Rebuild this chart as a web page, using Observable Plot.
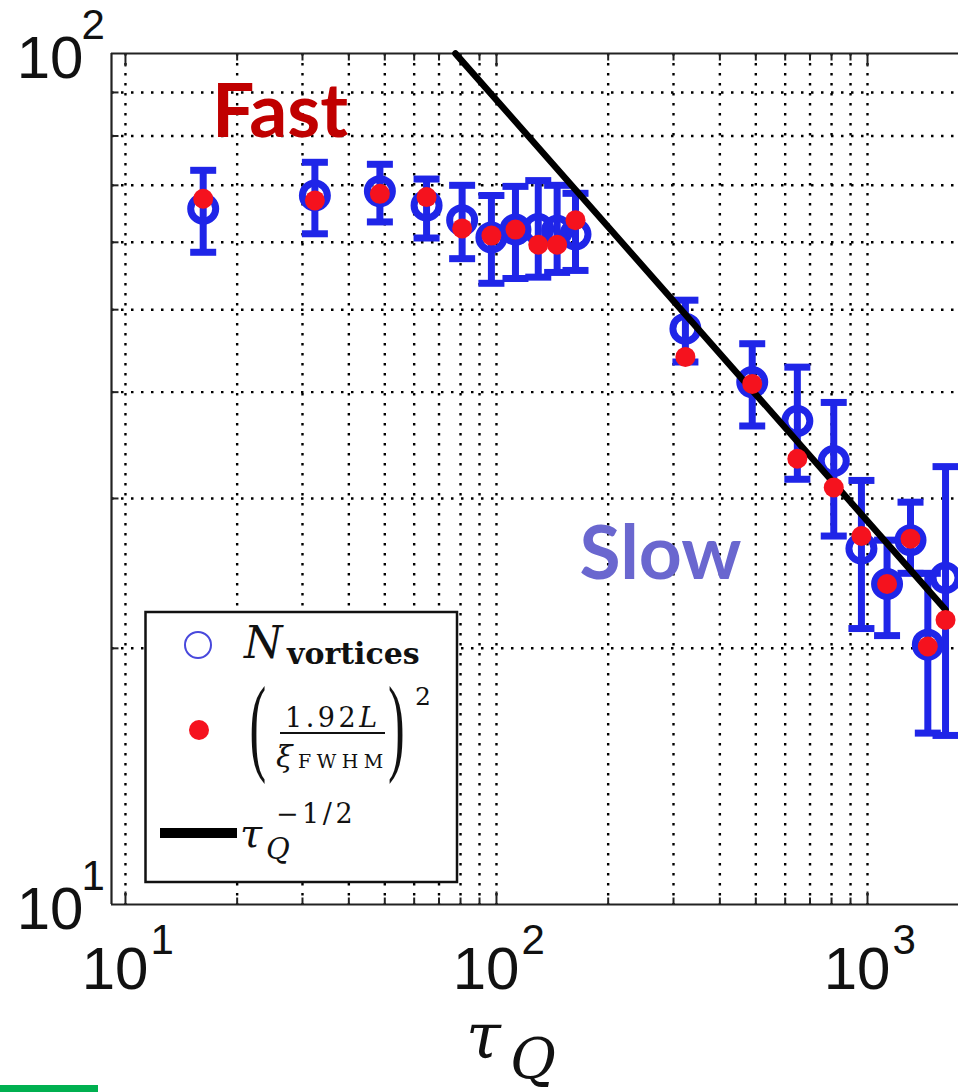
<!DOCTYPE html>
<html><head><meta charset="utf-8">
<script src="https://cdn.jsdelivr.net/npm/d3@7"></script>
<script src="https://cdn.jsdelivr.net/npm/@observablehq/plot@0.6"></script>
<style>
html,body{margin:0;padding:0;background:#fff;}
#chart{position:relative;width:958px;height:1092px;overflow:hidden;}
#chart svg{display:block;}
#green{position:absolute;left:0;top:1085px;width:98px;height:7px;background:#00b050;}
</style></head><body>
<div id="chart"><div id="green"></div></div>
<script>
// ---- data ----
const tauQ        = [16.2, 32.4, 48.5, 64.8, 80.8, 96.9, 112.5, 129.6, 145.7, 163.3, 323, 489, 647, 811, 963, 1129, 1306, 1454, 1623];
const nVortices   = [65.7, 68.1, 68.9, 66.3, 63.7, 60.8, 62.1, 62.2, 61.9, 61.3, 47.5, 41.1, 37.0, 33.2, 26.2, 23.8, 26.8, 20.2, 24.2];
const errHigh     = [72.9, 74.5, 74.1, 71.2, 70.0, 68.1, 69.8, 70.9, 70.0, 68.5, 51.3, 45.6, 42.8, 38.9, 31.5, 26.8, 29.7, 24.5, 32.7];
const errLow      = [58.4, 61.4, 63.4, 60.7, 57.4, 53.7, 54.4, 54.6, 55.3, 55.6, 43.4, 36.5, 31.6, 27.1, 21.1, 20.7, 24.5, 15.9, 15.8];
const fwhmEstimate= [67.5, 67.2, 68.4, 67.8, 62.3, 61.1, 62.1, 59.6, 59.6, 63.7, 44.0, 40.9, 33.4, 30.9, 27.1, 23.8, 26.9, 20.1, 21.6];
const fitX = [77.5, 1623];
const fitY = [100, 22.2];

const xMajor = [10, 100, 1000];
const xExp   = ["1", "2", "3"];
const xMinor = [20, 30, 40, 50, 60, 70, 80, 90, 200, 300, 400, 500, 600, 700, 800, 900];
const yMajor = [10, 100];
const yExp   = ["1", "2"];
const yMinor = [20, 30, 40, 50, 60, 70, 80, 90];

const regimeLabels = ["Fast", "Slow"];
const regimeX = [17.1, 167.5];
const regimeY = [79.7, 24.1];
const regimeColors = ["#c00000", "#6a67cf"];

const xDomain = [9.17, 1759];
const yDomain = [10, 100];

// ---- styling ----
const blue = "#1f25e8", red = "#f5121e";
const capSymbol = {draw(ctx, size){const r = Math.sqrt(size/Math.PI); ctx.moveTo(-r,0); ctx.lineTo(r,0);}};
const tickUp    = {draw(ctx, size){const r = Math.sqrt(size/Math.PI); ctx.moveTo(0,0); ctx.lineTo(0,-r);}};
const tickDown  = {draw(ctx, size){const r = Math.sqrt(size/Math.PI); ctx.moveTo(0,0); ctx.lineTo(0,r);}};
const tickRight = {draw(ctx, size){const r = Math.sqrt(size/Math.PI); ctx.moveTo(0,0); ctx.lineTo(r,0);}};

const pts = tauQ.map((t, i) => ({t, n: nVortices[i], hi: errHigh[i], lo: errLow[i], f: fwhmEstimate[i]}));
const fit = fitX.map((x, i) => ({x, y: fitY[i]}));
const regimes = regimeLabels.map((s, i) => ({s, x: regimeX[i], y: regimeY[i], c: regimeColors[i]}));
const xGrid = xMajor.concat(xMinor);

const gridStyle = {stroke: "#000", strokeWidth: 2.4, strokeDasharray: "2.5,7.5"};
const frameStyle = {stroke: "#222", strokeWidth: 2.2};
const sans = "'Liberation Sans', Arial, sans-serif";

const svg = Plot.plot({
  width: 958, height: 1092,
  marginLeft: 111, marginRight: 0, marginTop: 53, marginBottom: 188,
  x: {type: "log", domain: xDomain, axis: null},
  y: {type: "log", domain: yDomain, axis: null},
  style: {background: "white"},
  marks: [
    Plot.ruleX(xGrid, {x: d => d, ...gridStyle}),
    Plot.ruleY(yMinor, {y: d => d, ...gridStyle}),
    // frame (right edge lies beyond the picture)
    Plot.ruleY([yDomain[1]], {y: d => d, ...frameStyle}),
    Plot.ruleY([yDomain[0]], {y: d => d, ...frameStyle}),
    Plot.ruleX([xDomain[0]], {x: d => d, ...frameStyle}),
    // inward ticks
    Plot.dot(xMajor, {x: d => d, y: () => yDomain[0], symbol: tickUp, r: 13, stroke: "#222", strokeWidth: 2}),
    Plot.dot(xMinor, {x: d => d, y: () => yDomain[0], symbol: tickUp, r: 7, stroke: "#222", strokeWidth: 2}),
    Plot.dot(xMajor, {x: d => d, y: () => yDomain[1], symbol: tickDown, r: 13, stroke: "#222", strokeWidth: 2}),
    Plot.dot(xMinor, {x: d => d, y: () => yDomain[1], symbol: tickDown, r: 7, stroke: "#222", strokeWidth: 2}),
    Plot.dot(yMinor, {x: () => xDomain[0], y: d => d, symbol: tickRight, r: 7, stroke: "#222", strokeWidth: 2}),
    // tick labels
    Plot.text(xMajor, {x: d => d, y: () => yDomain[0], text: () => "10", dx: 23, dy: 84, textAnchor: "end", lineAnchor: "bottom", fontSize: 60, fontFamily: sans, fill: "#111"}),
    Plot.text(xMajor, {x: d => d, y: () => yDomain[0], text: (d, i) => xExp[i], dx: 25, dy: 49, textAnchor: "start", lineAnchor: "bottom", fontSize: 42, fontFamily: sans, fill: "#111"}),
    Plot.text(yMajor, {x: () => xDomain[0], y: d => d, text: () => "10", dx: -28, dy: 24, textAnchor: "end", lineAnchor: "bottom", fontSize: 60, fontFamily: sans, fill: "#111"}),
    Plot.text(yMajor, {x: () => xDomain[0], y: d => d, text: (d, i) => yExp[i], dx: -30, dy: -15, textAnchor: "start", lineAnchor: "bottom", fontSize: 42, fontFamily: sans, fill: "#111"}),
    // error bars and N_vortices
    Plot.ruleX(pts, {x: "t", y1: "lo", y2: "hi", stroke: blue, strokeWidth: 7}),
    Plot.dot(pts, {x: "t", y: "hi", symbol: capSymbol, r: 13, stroke: blue, strokeWidth: 7, fill: "none"}),
    Plot.dot(pts, {x: "t", y: "lo", symbol: capSymbol, r: 13, stroke: blue, strokeWidth: 7, fill: "none"}),
    Plot.dot(pts, {x: "t", y: "n", r: 12.5, stroke: blue, strokeWidth: 7, fill: "none"}),
    // fit line
    Plot.line(fit, {x: "x", y: "y", stroke: "#000", strokeWidth: 6.5}),
    // (1.92L/xi)^2
    Plot.dot(pts, {x: "t", y: "f", r: 10, fill: red}),
    // annotations
    Plot.text(regimes, {x: "x", y: "y", text: "s", fill: "c", textAnchor: "start", lineAnchor: "bottom", fontSize: 75, fontWeight: "bold", fontFamily: "Lato, 'Open Sans', sans-serif"})
  ]
});

document.getElementById("chart").prepend(svg);

// ---- legend and axis title ----
const g = d3.select(svg).append("g").attr("text-anchor", "start").attr("fill", "#111");
const serif = "'DejaVu Serif', serif";
const lserif = "'Liberation Serif', serif";
function txt(x, y, s, font, size, extra = {}) {
  const t = g.append("text").attr("x", x).attr("y", y).attr("font-family", font).attr("font-size", size).text(s);
  for (const k in extra) t.attr(k, extra[k]);
  return t;
}
g.append("rect").attr("x", 145.5).attr("y", 612).attr("width", 311.5).attr("height", 270)
  .attr("fill", "white").attr("stroke", "#111").attr("stroke-width", 2.5);
// N_vortices
g.append("circle").attr("cx", 198).attr("cy", 645).attr("r", 13)
  .attr("fill", "none").attr("stroke", "#4848dc").attr("stroke-width", 2);
txt(244, 658, "N", serif, 44, {"font-style": "italic"});
txt(287, 664, "vortices", serif, 30, {"font-weight": "bold"});
// (1.92L / xi_FWHM)^2
g.append("circle").attr("cx", 199).attr("cy", 730).attr("r", 10).attr("fill", red);
g.append("text").attr("font-family", lserif).attr("font-size", 50)
  .attr("transform", "translate(249.5,761) scale(1,2.15)").text("(");
g.append("text").attr("font-family", lserif).attr("font-size", 50)
  .attr("transform", "translate(388,761) scale(1,2.15)").text(")");
const num = txt(285, 727, "", serif, 27, {"letter-spacing": 3.5});
num.append("tspan").text("1.92");
num.append("tspan").attr("font-style", "italic").text("L");
g.append("line").attr("x1", 280).attr("x2", 385).attr("y1", 733).attr("y2", 733).attr("stroke", "#111").attr("stroke-width", 2);
txt(276, 767, "ξ", serif, 30, {"font-style": "italic"});
txt(298, 768, "FWHM", serif, 19, {"letter-spacing": 5.5});
txt(415, 705, "2", serif, 25);
// tau_Q^{-1/2}
g.append("rect").attr("x", 160).attr("y", 828).attr("width", 77).attr("height", 10).attr("fill", "#000");
txt(240, 847, "τ", serif, 40, {"font-style": "italic"});
txt(266, 859, "Q", serif, 29, {"font-style": "italic"});
txt(276, 823, "−1/2", serif, 27, {"letter-spacing": 3.5});
// axis title
txt(466, 1058, "τ", serif, 63, {"font-style": "italic"});
txt(510, 1078, "Q", serif, 56, {"font-style": "italic"});
</script>
</body></html>
